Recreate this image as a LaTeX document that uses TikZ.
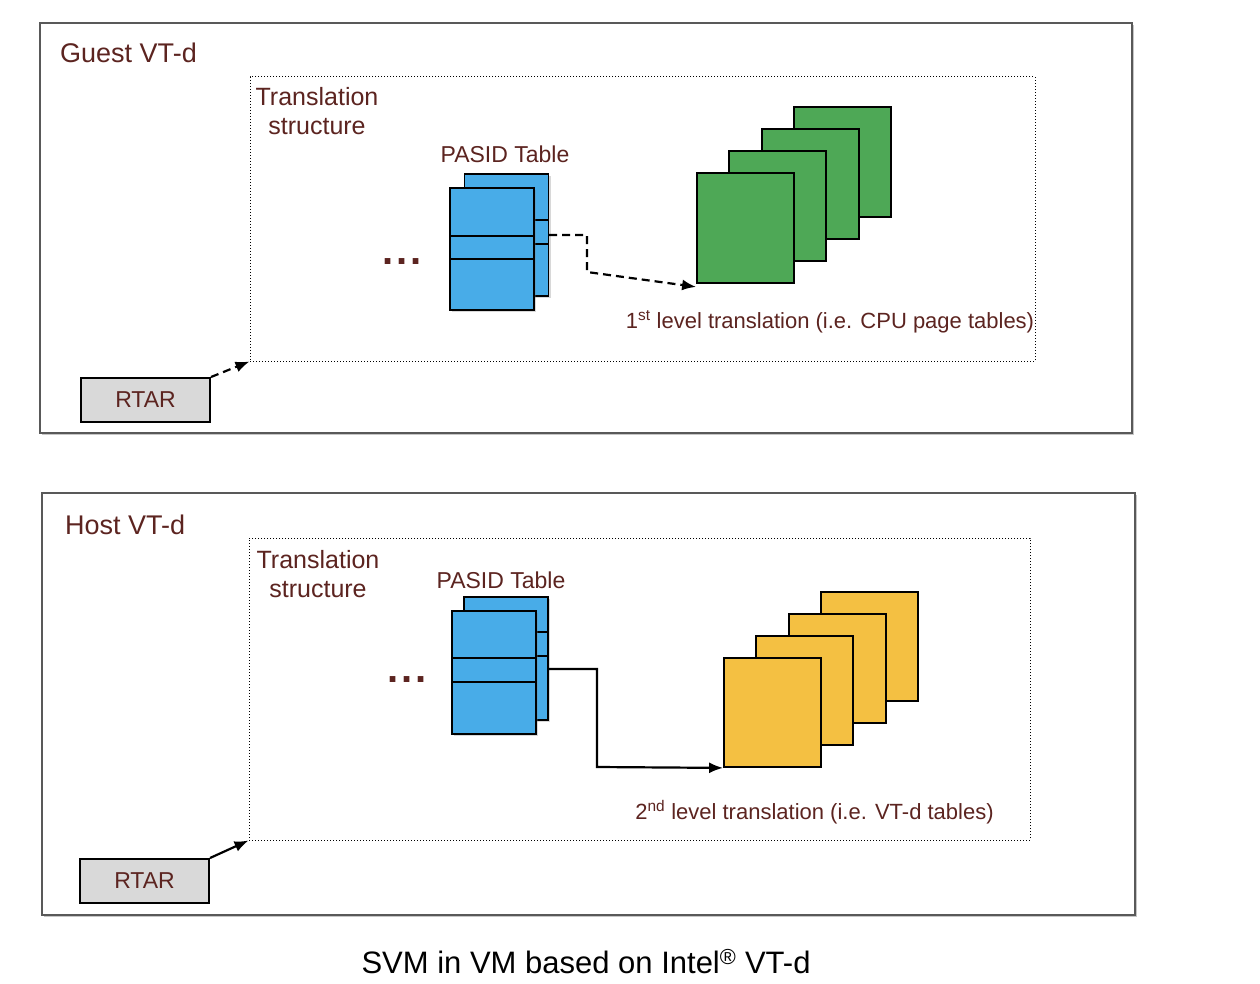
\documentclass[tikz,border=0pt]{standalone}
\usepackage{fontspec}
\setmainfont{Liberation Sans}
\usetikzlibrary{arrows.meta,shadows}

\definecolor{txtc}{RGB}{92,36,32}
\definecolor{pasidc}{RGB}{72,172,232}
\definecolor{firstc}{RGB}{78,168,86}
\definecolor{secondc}{RGB}{244,192,66}
\definecolor{rtarc}{RGB}{217,217,217}

\begin{document}
\begin{tikzpicture}[x=1pt,y=1pt,yscale=-1,xscale=1,
  outerbox/.style={draw=black!65,fill=white,line width=1.1pt,rectangle,drop shadow={shadow xshift=2pt,shadow yshift=-2pt,opacity=0.45}},
  innerbox/.style={draw,dotted,line width=1pt,rectangle},
  pasidbox/.style={draw,fill=pasidc,line width=1.4pt,rectangle,minimum width=84,minimum height=122,drop shadow={shadow xshift=2pt,shadow yshift=-2pt,opacity=0.3}},
  pagebox/.style={draw,line width=1.8pt,rectangle,minimum width=97,minimum height=110},
  rtarbox/.style={draw,fill=rtarc,line width=2pt,rectangle,minimum width=129,minimum height=44,text=txtc,font=\fontsize{23}{26}\selectfont},
  lbl/.style={text=txtc,inner sep=0pt},
  conn/.style={line width=2.2pt,-{Latex[length=14pt,width=11pt]}},
  dashconn/.style={conn,dash pattern=on 8pt off 5pt}]
\useasboundingbox (0,0) rectangle (1260,984);

%Guest VT-d
\node (gouter) [outerbox,minimum width=1092,minimum height=410] at (586,228) {};
\node (ginner) [innerbox,minimum width=785,minimum height=284] at (642.5,219) {};
% Text Node
\node (gtitle) [lbl,anchor=west,font=\fontsize{27}{30}\selectfont] at (60,53) {Guest VT-d};
% Text Node
\node (gtrans) [lbl,align=center,font=\fontsize{25}{29}\selectfont] at (317,111) {Translation\\structure};
% Text Node
\node (gpasidlbl) [lbl,font=\fontsize{23}{26}\selectfont] at (505,154) {PASID Table};
% Text Node
\node (gdots) [lbl,font=\fontsize{40}{40}\selectfont\bfseries] at (402,262) {.\kern3pt.\kern3pt.};

%PASID Table
\node (gback) [pasidbox] at (506.5,235) {};
\draw [line width=1.4pt] (gback.west |- 0,220) -- (gback.east |- 0,220) (gback.west |- 0,244) -- (gback.east |- 0,244);
\node (gfront) [pasidbox] at (492,249) {};
\draw [line width=1.4pt] (gfront.west |- 0,236) -- (gfront.east |- 0,236) (gfront.west |- 0,259) -- (gfront.east |- 0,259);

%CPU page tables
\foreach \i in {3,2,1,0}
  \node (g\i) [pagebox,fill=firstc] at (745.5+32.3*\i,228-22*\i) {};

\coordinate (gbend) at (587,272);
\draw [dashconn] (gback.east) -| (gbend) -- ([yshift=3pt]g0.south west);
% Text Node
\node (gfirst) [lbl,font=\fontsize{22}{26}\selectfont] at (830,322) {1\textsuperscript{st} level translation (i.e. CPU page tables)};

\node (grtar) [rtarbox] at (145.5,400) {RTAR};
\draw [dashconn] (grtar.north east) -- (ginner.south west);

%Host VT-d
\node (houter) [outerbox,minimum width=1093,minimum height=422] at (588.5,704) {};
\node (hinner) [innerbox,minimum width=781,minimum height=302] at (639.5,689) {};
% Text Node
\node (htitle) [lbl,anchor=west,font=\fontsize{27}{30}\selectfont] at (65,525) {Host VT-d};
% Text Node
\node (htrans) [lbl,align=center,font=\fontsize{25}{29}\selectfont] at (318,574) {Translation\\structure};
% Text Node
\node (hpasidlbl) [lbl,font=\fontsize{23}{26}\selectfont] at (501,580) {PASID Table};
% Text Node
\node (hdots) [lbl,font=\fontsize{40}{40}\selectfont\bfseries] at (407,680) {.\kern3pt.\kern3pt.};

%PASID Table
\node (hback) [pasidbox,minimum height=123] at (506,658.5) {};
\draw [line width=1.4pt] (hback.west |- 0,632) -- (hback.east |- 0,632) (hback.west |- 0,656) -- (hback.east |- 0,656);
\node (hfront) [pasidbox,minimum height=123] at (494,672.5) {};
\draw [line width=1.4pt] (hfront.west |- 0,658) -- (hfront.east |- 0,658) (hfront.west |- 0,682) -- (hfront.east |- 0,682);

%VT-d tables
\foreach \i in {3,2,1,0}
  \node (y\i) [pagebox,fill=secondc,minimum height=109] at (772.5+32.3*\i,712.5-22*\i) {};

\coordinate (hbend) at (597,767);
\draw [conn] ([yshift=10.5pt]hback.east) -| (hbend) -- (y0.south west);
% Text Node
\node (hsecond) [lbl,font=\fontsize{22}{26}\selectfont] at (814.5,812) {2\textsuperscript{nd} level translation (i.e. VT-d tables)};

\node (hrtar) [rtarbox] at (144.5,881) {RTAR};
\draw [conn] (hrtar.north east) -- (hinner.south west);

% Text Node
\node (caption) [inner sep=0pt,font=\fontsize{31}{34}\selectfont] at (586,962) {SVM in VM based on Intel\textsuperscript{®} VT-d};

\end{tikzpicture}
\end{document}
